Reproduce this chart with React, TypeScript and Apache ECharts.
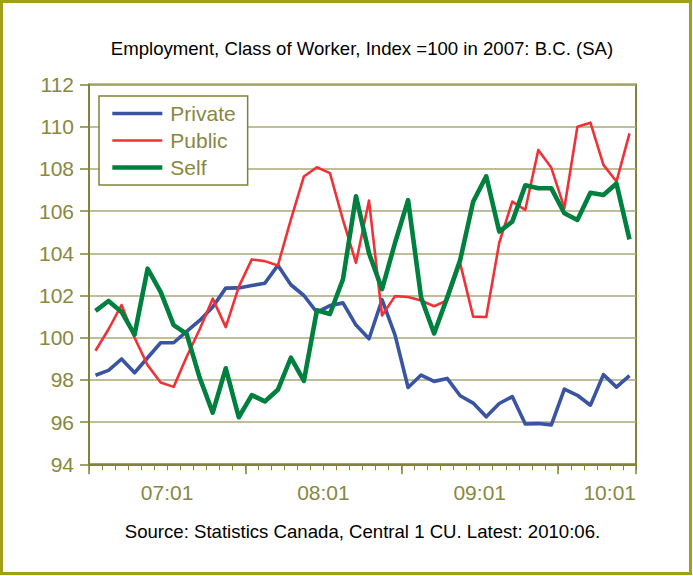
import React, { useEffect, useRef } from 'react';
import * as echarts from 'echarts';

const months = [
  '07:01', '07:02', '07:03', '07:04', '07:05', '07:06', '07:07', '07:08', '07:09', '07:10', '07:11', '07:12',
  '08:01', '08:02', '08:03', '08:04', '08:05', '08:06', '08:07', '08:08', '08:09', '08:10', '08:11', '08:12',
  '09:01', '09:02', '09:03', '09:04', '09:05', '09:06', '09:07', '09:08', '09:09', '09:10', '09:11', '09:12',
  '10:01', '10:02', '10:03', '10:04', '10:05', '10:06',
];

const privateIdx = [
  98.22, 98.45, 98.99, 98.34, 99.05, 99.76, 99.76, 100.3, 100.82, 101.45, 102.35, 102.36,
  102.47, 102.58, 103.43, 102.51, 102.0, 101.2, 101.52, 101.65, 100.6, 99.95, 101.8, 100.12,
  97.64, 98.23, 97.93, 98.07, 97.25, 96.9, 96.25, 96.88, 97.21, 95.91, 95.93, 95.87,
  97.56, 97.27, 96.8, 98.25, 97.66, 98.2,
];

const publicIdx = [
  99.38, 100.4, 101.55, 100.0, 98.7, 97.88, 97.67, 99.1, 100.4, 101.85, 100.5, 102.41,
  103.71, 103.63, 103.42, 105.6, 107.64, 108.08, 107.8, 105.58, 103.55, 106.5, 101.05, 101.97,
  101.93, 101.76, 101.49, 101.77, 103.52, 101.0, 100.98, 104.5, 106.45, 106.06, 108.9, 108.05,
  106.15, 110.0, 110.19, 108.19, 107.4, 109.68,
];

const selfIdx = [
  101.27, 101.74, 101.22, 100.15, 103.27, 102.17, 100.6, 100.18, 98.1, 96.45, 98.55, 96.23,
  97.28, 96.98, 97.53, 99.05, 97.95, 101.3, 101.12, 102.77, 106.7, 104.0, 102.3, 104.5,
  106.52, 101.9, 100.2, 101.9, 103.68, 106.45, 107.65, 105.03, 105.5, 107.22, 107.08, 107.08,
  105.9, 105.58, 106.87, 106.76, 107.31, 104.66,
];

const seriesNames = ['Private', 'Public', 'Self'];
const titleText = 'Employment, Class of Worker, Index =100 in 2007: B.C. (SA)';
const sourceText = 'Source: Statistics Canada, Central 1 CU. Latest: 2010:06.';
const yMin = 94;
const yMax = 112;
const yStep = 2;

const FONT = '"Liberation Sans", Arial, sans-serif';
const AXIS = '#82823a';
const LABEL = '#88883f';
const GRID = '#a9a97a';
const FRAME = '#a0a018';
const COLORS = ['#3a54a4', '#ee3238', '#00803e'];
const WIDTHS = [3.6, 2.6, 4.6];

export default function App() {
  const ref = useRef<HTMLDivElement>(null);

  useEffect(() => {
    if (!ref.current) return;
    const chart = echarts.init(ref.current, null, { renderer: 'svg' });
    const n = months.length;
    const toPoints = (arr: number[]) => arr.map((v, i) => [i + 0.5, v]);
    const datasets = [privateIdx, publicIdx, selfIdx];

    const option: any = {
      animation: false,
      backgroundColor: '#ffffff',
      textStyle: { fontFamily: FONT },
      grid: {
        left: 89,
        right: 57,
        top: 84.5,
        bottom: 111.7,
        show: true,
        borderColor: AXIS,
        borderWidth: 2,
        backgroundColor: 'transparent',
      },
      xAxis: [
        {
          type: 'value',
          min: 0,
          max: n,
          interval: 1,
          axisLine: { show: true, lineStyle: { color: AXIS, width: 2 } },
          axisTick: { show: true, length: 6, lineStyle: { color: AXIS, width: 1 } },
          splitLine: { show: false },
          axisLabel: {
            formatter: (v: number) => {
              const r = Math.round(v);
              return r % 12 === 6 ? months[r - 6] : '';
            },
            color: LABEL,
            fontSize: 21,
            fontFamily: FONT,
            margin: 18,
            showMaxLabel: true,
            showMinLabel: true,
            alignMaxLabel: 'right',
            hideOverlap: false,
          },
        },
        {
          type: 'value',
          min: 0,
          max: n,
          interval: 12,
          position: 'bottom',
          axisLine: { show: false },
          axisTick: { show: true, length: 10, lineStyle: { color: AXIS, width: 1.5 } },
          axisLabel: { show: false },
          splitLine: { show: false },
        },
      ],
      yAxis: {
        type: 'value',
        min: yMin,
        max: yMax,
        interval: yStep,
        axisLine: { show: true, lineStyle: { color: AXIS, width: 2 } },
        axisTick: { show: true, length: 9, lineStyle: { color: AXIS, width: 1.5 } },
        axisLabel: { color: LABEL, fontSize: 21, margin: 15, fontFamily: FONT },
        splitLine: { show: true, lineStyle: { color: GRID, width: 1.5 } },
      },
      legend: {
        orient: 'vertical',
        left: 99,
        top: 96,
        backgroundColor: '#ffffff',
        borderColor: AXIS,
        borderWidth: 1.5,
        borderRadius: 0,
        padding: [7, 12, 7, 11],
        itemGap: 6,
        itemWidth: 50,
        itemHeight: 21,
        textStyle: { color: LABEL, fontSize: 21, fontFamily: FONT, padding: [0, 0, 0, 3] },
        data: seriesNames.map((name, i) => ({
          name,
          itemStyle: { opacity: 0, color: 'transparent', borderWidth: 0 },
          lineStyle: { color: COLORS[i], width: WIDTHS[i], opacity: 1 },
        })),
      },
      graphic: [
        {
          type: 'rect',
          shape: { x: 1.5, y: 1.5, width: 689, height: 572 },
          style: { fill: 'none', stroke: FRAME, lineWidth: 3 },
          silent: true,
        },
        {
          type: 'text',
          x: 362,
          y: 48,
          style: {
            text: titleText,
            font: '18.6px "Liberation Sans", Arial, sans-serif',
            fill: '#000000',
            textAlign: 'center',
            textVerticalAlign: 'middle',
            align: 'center',
            verticalAlign: 'middle',
          },
        },
        {
          type: 'text',
          x: 362.5,
          y: 531,
          style: {
            text: sourceText,
            font: '18.6px "Liberation Sans", Arial, sans-serif',
            fill: '#000000',
            textAlign: 'center',
            textVerticalAlign: 'middle',
            align: 'center',
            verticalAlign: 'middle',
          },
        },
      ],
      series: datasets.map((arr, i) => ({
        name: seriesNames[i],
        type: 'line',
        xAxisIndex: 0,
        yAxisIndex: 0,
        data: toPoints(arr),
        symbol: 'none',
        color: COLORS[i],
        lineStyle: { color: COLORS[i], width: WIDTHS[i], join: 'round' },
        z: 2 + i,
      })),
    };

    chart.setOption(option);
    return () => chart.dispose();
  }, []);

  return (
    <div
      ref={ref}
      style={{ position: 'absolute', left: 0, top: 0, width: 693, height: 576 }}
    />
  );
}
